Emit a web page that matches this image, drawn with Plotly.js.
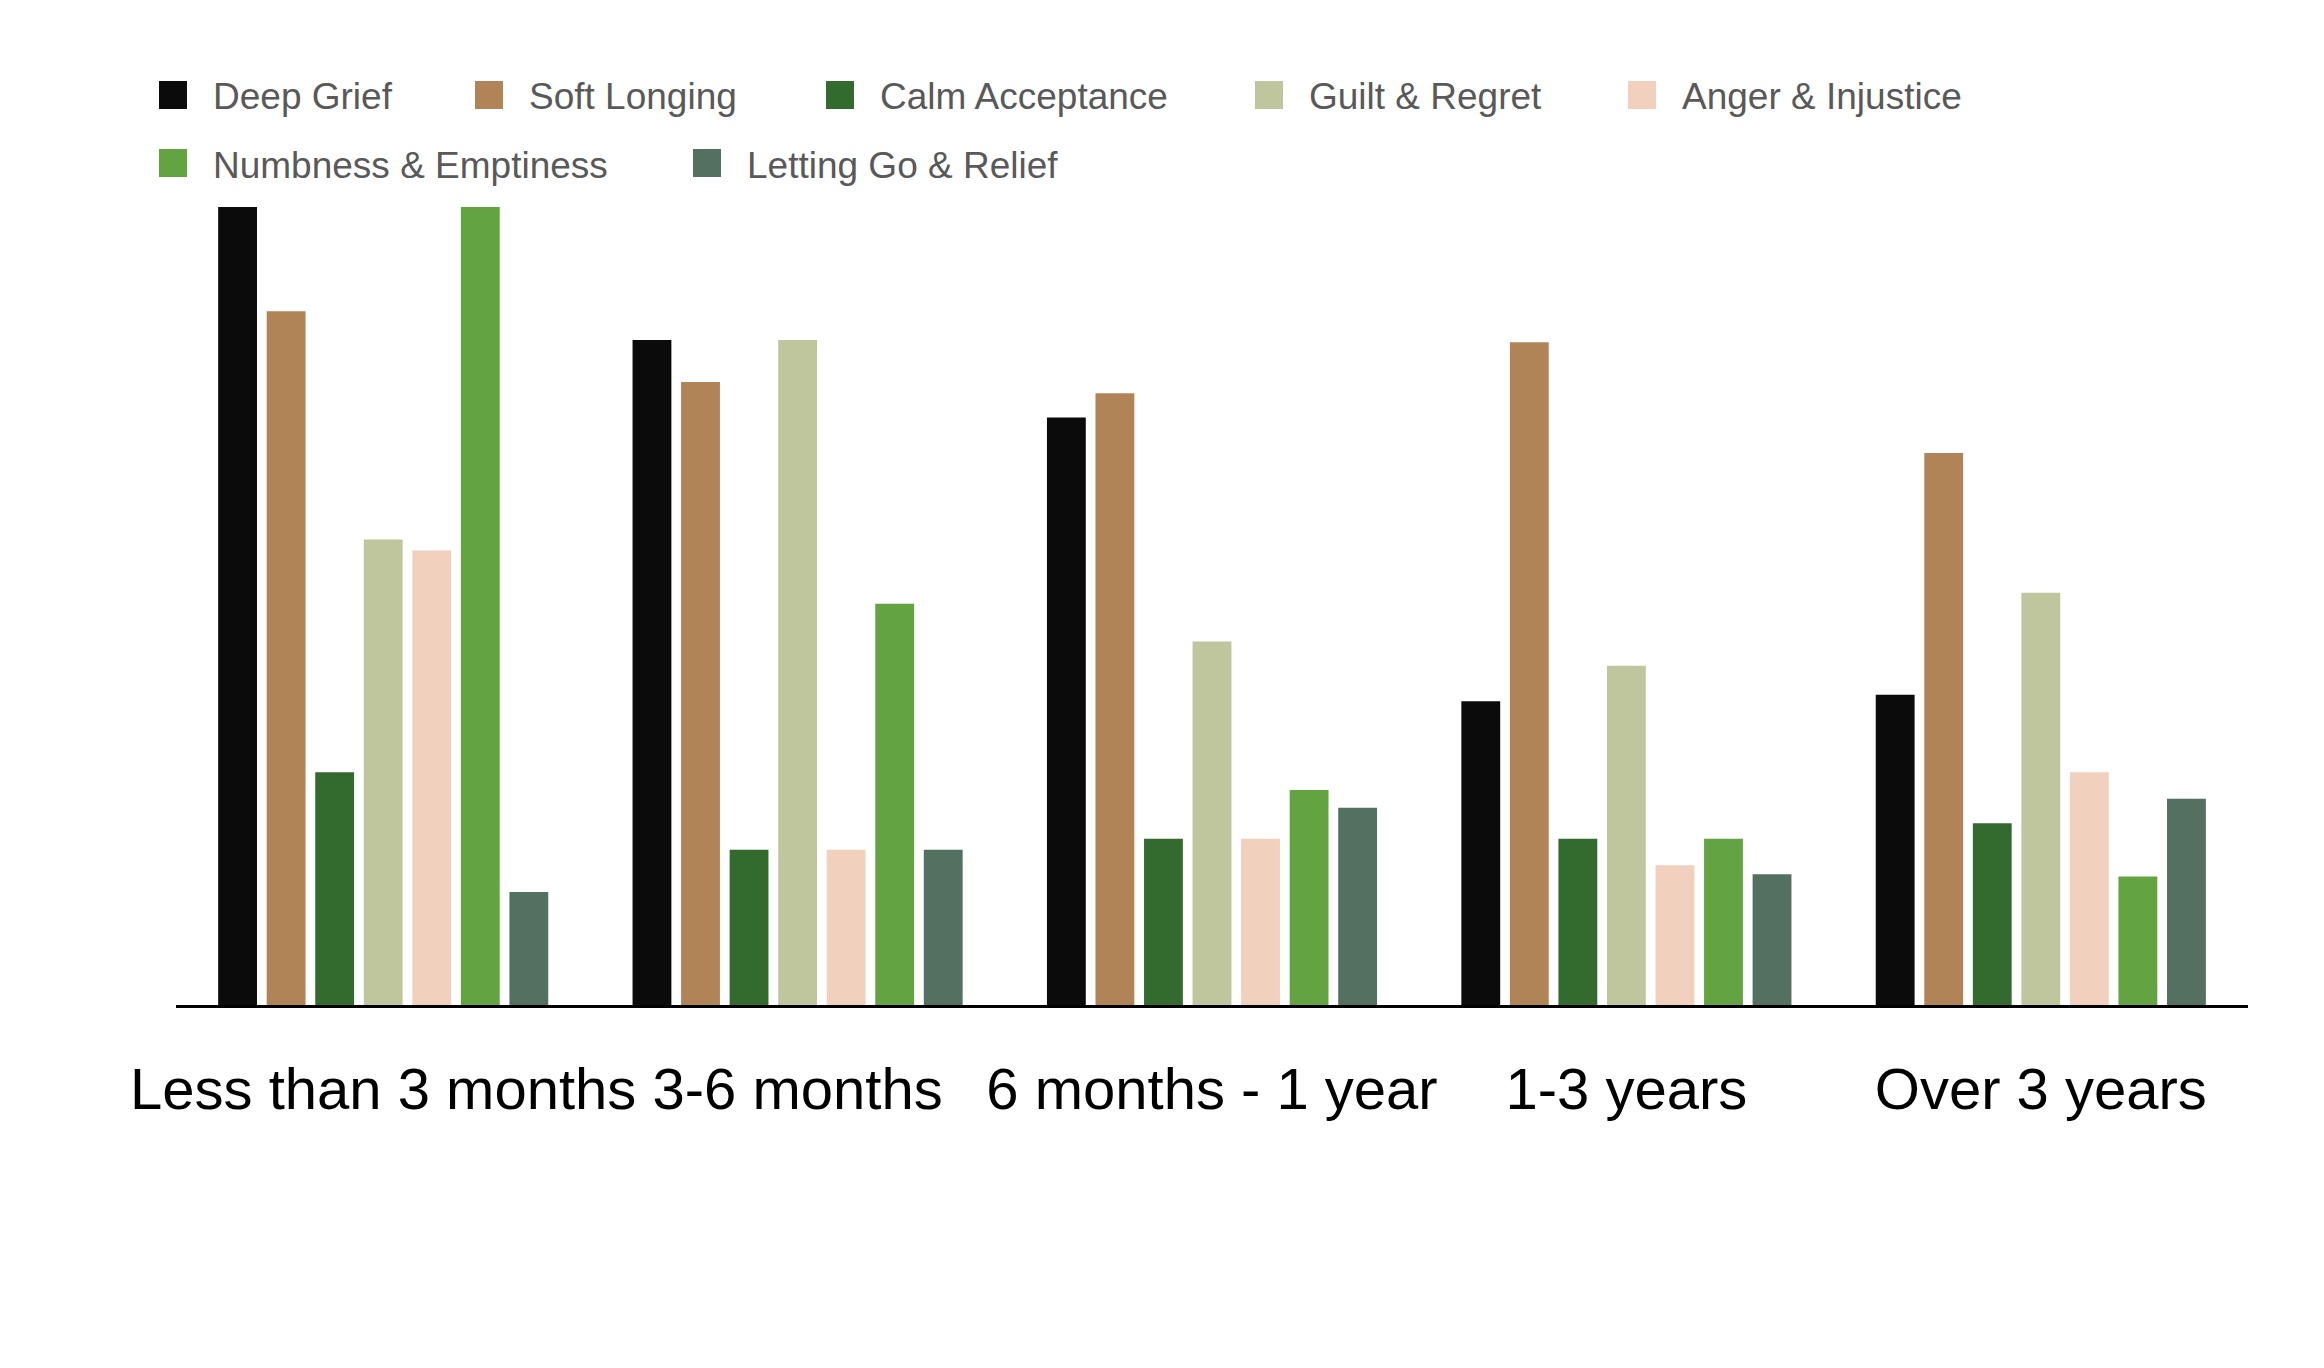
<!DOCTYPE html>
<html>
<head>
<meta charset="utf-8">
<script src="https://cdn.plot.ly/plotly-3.0.1.min.js"></script>
<style>
html, body { margin: 0; padding: 0; background: #ffffff; }
#chart { width: 2324px; height: 1368px; }
</style>
</head>
<body>
<div id="chart"></div>
<script>
// ---- data ----
const categories = ["Less than 3 months", "3-6 months", "6 months - 1 year", "1-3 years", "Over 3 years"];
const seriesNames = ["Deep Grief", "Soft Longing", "Calm Acceptance", "Guilt & Regret", "Anger & Injustice", "Numbness & Emptiness", "Letting Go & Relief"];
const deepGrief = [36, 30, 26.5, 13.7, 14.0];
const softLonging = [31.3, 28.1, 27.6, 29.9, 24.9];
const calmAcceptance = [10.5, 7.0, 7.5, 7.5, 8.2];
const guiltRegret = [21.0, 30.0, 16.4, 15.3, 18.6];
const angerInjustice = [20.5, 7.0, 7.5, 6.3, 10.5];
const numbnessEmptiness = [36, 18.1, 9.7, 7.5, 5.8];
const lettingGoRelief = [5.1, 7.0, 8.9, 5.9, 9.3];
const seriesValues = [deepGrief, softLonging, calmAcceptance, guiltRegret, angerInjustice, numbnessEmptiness, lettingGoRelief];
const yMax = 36;

// ---- style ----
const colors = ["#0b0b0b", "#b08456", "#336a2d", "#bfc59c", "#f2d0be", "#63a342", "#537060"];
const W = 2324, H = 1368;
const M = { l: 176, r: 76, t: 207, b: 363 };
const plotW = W - M.l - M.r, plotH = H - M.t - M.b;
const px2x = p => (p - M.l) / plotW;
const px2y = p => (H - M.b - p) / plotH;

// legend layout (pixel positions of symbol left edges and row centres)
const legendLeft = [159, 475, 826, 1255, 1628, 159, 693];
const legendRow = [0, 0, 0, 0, 0, 1, 1];
const rowCenter = [95, 163];
const symSize = 28;
const textOffset = 52;

const traces = seriesNames.map((name, i) => ({
  type: "bar",
  name: name,
  x: categories,
  y: seriesValues[i],
  marker: { color: colors[i], line: { width: 0 } },
  showlegend: false,
  hovertemplate: "%{x}<br>" + name + ": %{y}<extra></extra>"
}));

const shapes = [], annotations = [];
seriesNames.forEach((name, i) => {
  const cy = rowCenter[legendRow[i]];
  shapes.push({
    type: "rect", xref: "paper", yref: "paper",
    x0: px2x(legendLeft[i]), x1: px2x(legendLeft[i] + symSize),
    y0: px2y(cy + symSize / 2), y1: px2y(cy - symSize / 2),
    fillcolor: colors[i], line: { width: 0 }
  });
  annotations.push({
    xref: "paper", yref: "paper",
    x: px2x(legendLeft[i] + textOffset), y: px2y(cy + 2),
    xanchor: "left", yanchor: "middle",
    text: name, showarrow: false,
    font: { family: "Liberation Sans, Arial, sans-serif", size: 37, color: "#595959" }
  });
});

const layout = {
  width: W, height: H,
  margin: M,
  paper_bgcolor: "#ffffff",
  plot_bgcolor: "#ffffff",
  barmode: "group",
  bargap: 0.18,
  bargroupgap: 0.2,
  showlegend: false,
  xaxis: {
    type: "category",
    showline: true, linecolor: "#000000", linewidth: 3,
    ticks: "", showgrid: false, zeroline: false,
    ticklabelstandoff: 31,
    tickfont: { family: "Liberation Sans, Arial, sans-serif", size: 58, color: "#000000" }
  },
  yaxis: {
    range: [0, yMax],
    visible: false,
    showgrid: false, zeroline: false, showline: false, showticklabels: false
  },
  shapes: shapes,
  annotations: annotations
};

Plotly.newPlot("chart", traces, layout, { displayModeBar: false, staticPlot: true });
</script>
</body>
</html>
